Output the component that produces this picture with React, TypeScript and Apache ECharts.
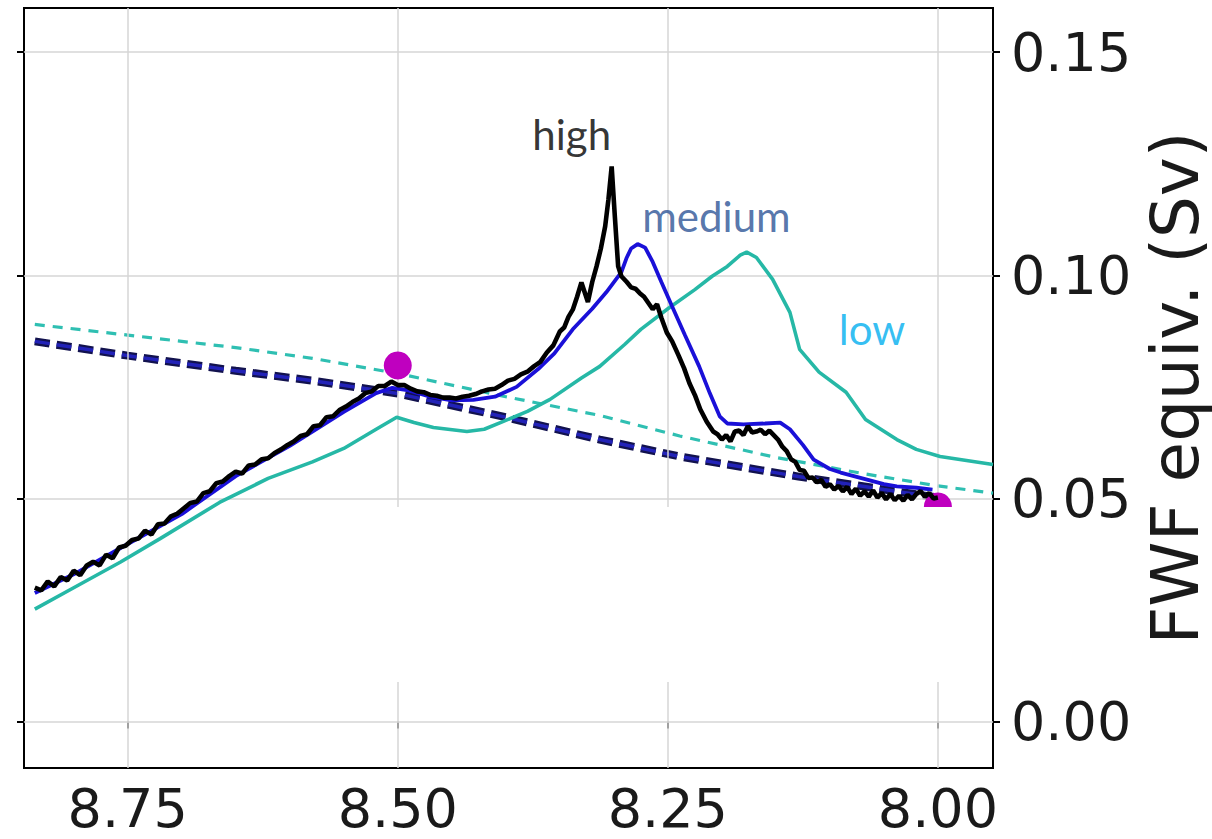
import React, { useEffect, useRef } from "react";
import * as echarts from "echarts";

// ---------- data ----------
const xTicks = [8.75, 8.5, 8.25, 8.0];
const yTicks = [0, 0.05, 0.1, 0.15];
const xMin = 7.949;
const xMax = 8.846;
const yMin = -0.0104;
const yMax = 0.1599;

const highData: number[][] = [
  [8.836, 0.0300], [8.830, 0.0294], [8.824, 0.0314], [8.818, 0.0303], [8.812, 0.0324],
  [8.806, 0.0316], [8.800, 0.0338], [8.794, 0.0328], [8.788, 0.0350], [8.782, 0.0358],
  [8.776, 0.0350], [8.770, 0.0374], [8.764, 0.0366], [8.758, 0.0390], [8.752, 0.0394],
  [8.746, 0.0407], [8.740, 0.0410], [8.734, 0.0428], [8.728, 0.0419], [8.722, 0.0442],
  [8.716, 0.0444], [8.710, 0.0460], [8.704, 0.0466], [8.698, 0.0478], [8.692, 0.0490],
  [8.686, 0.0493], [8.680, 0.0512], [8.674, 0.0516], [8.668, 0.0534], [8.662, 0.0538],
  [8.656, 0.0550], [8.650, 0.0560], [8.644, 0.0556], [8.638, 0.0574], [8.632, 0.0576],
  [8.626, 0.0588], [8.620, 0.0590], [8.614, 0.0602], [8.608, 0.0610], [8.602, 0.0620],
  [8.596, 0.0628], [8.590, 0.0640], [8.584, 0.0644], [8.578, 0.0662], [8.572, 0.0664],
  [8.566, 0.0682], [8.560, 0.0684], [8.554, 0.0698], [8.548, 0.0706], [8.542, 0.0716],
  [8.536, 0.0724], [8.530, 0.0736], [8.524, 0.0740], [8.518, 0.0752], [8.512, 0.0752],
  [8.506, 0.0762], [8.500, 0.0754], [8.494, 0.0754], [8.488, 0.0746], [8.482, 0.0740],
  [8.476, 0.0738], [8.470, 0.0732], [8.464, 0.0730], [8.458, 0.0726], [8.452, 0.0726],
  [8.446, 0.0724], [8.440, 0.0728], [8.434, 0.0730], [8.428, 0.0734], [8.422, 0.0740],
  [8.416, 0.0744], [8.410, 0.0746], [8.404, 0.0754], [8.398, 0.0764], [8.392, 0.0768],
  [8.386, 0.0778], [8.380, 0.0784], [8.374, 0.0796], [8.368, 0.0806], [8.362, 0.0827],
  [8.356, 0.0843], [8.350, 0.0874], [8.346, 0.0883], [8.342, 0.0907], [8.338, 0.0923],
  [8.334, 0.0952], [8.330, 0.0984], [8.327, 0.0962], [8.324, 0.0940], [8.320, 0.0985],
  [8.316, 0.1020], [8.312, 0.1060], [8.308, 0.1110], [8.305, 0.1170], [8.302, 0.1244],
  [8.299, 0.1130], [8.296, 0.1020], [8.293, 0.0998], [8.288, 0.0985], [8.284, 0.0973],
  [8.280, 0.0970], [8.276, 0.0960], [8.272, 0.0952], [8.268, 0.0938], [8.264, 0.0924],
  [8.260, 0.0935], [8.256, 0.0905], [8.251, 0.0872], [8.246, 0.0852], [8.240, 0.0820],
  [8.235, 0.0792], [8.230, 0.0758], [8.225, 0.0732], [8.220, 0.0700], [8.214, 0.0672],
  [8.208, 0.0650], [8.204, 0.0644], [8.200, 0.0632], [8.196, 0.0642], [8.192, 0.0628],
  [8.188, 0.0650], [8.184, 0.0652], [8.180, 0.0642], [8.176, 0.0662], [8.172, 0.0648],
  [8.168, 0.0650], [8.164, 0.0654], [8.160, 0.0644], [8.156, 0.0652], [8.152, 0.0642],
  [8.148, 0.0632], [8.144, 0.0616], [8.140, 0.0606], [8.136, 0.0588], [8.132, 0.0582],
  [8.128, 0.0564], [8.124, 0.0562], [8.120, 0.0546], [8.116, 0.0547], [8.112, 0.0536],
  [8.108, 0.0542], [8.104, 0.0526], [8.100, 0.0532], [8.096, 0.0520], [8.092, 0.0528],
  [8.088, 0.0516], [8.084, 0.0526], [8.080, 0.0510], [8.076, 0.0522], [8.072, 0.0506],
  [8.068, 0.0516], [8.064, 0.0504], [8.060, 0.0518], [8.056, 0.0502], [8.052, 0.0512],
  [8.048, 0.0498], [8.044, 0.0510], [8.040, 0.0496], [8.036, 0.0506], [8.032, 0.0495],
  [8.028, 0.0508], [8.024, 0.0498], [8.020, 0.0510], [8.016, 0.0516], [8.012, 0.0504],
  [8.008, 0.0512], [8.004, 0.0500], [8.000, 0.0502],
];

const mediumData: number[][] = [
  [8.836, 0.0288], [8.80, 0.0330], [8.75, 0.0398], [8.70, 0.0465], [8.65, 0.0550],
  [8.60, 0.0618], [8.55, 0.0694], [8.52, 0.0736], [8.505, 0.0748], [8.49, 0.0742],
  [8.47, 0.0728], [8.45, 0.0720], [8.43, 0.0721], [8.41, 0.0728], [8.39, 0.0750],
  [8.37, 0.0790], [8.355, 0.0825], [8.338, 0.0879], [8.320, 0.0925], [8.307, 0.0962],
  [8.293, 0.1007], [8.288, 0.1040], [8.284, 0.1060], [8.278, 0.1070], [8.271, 0.1062],
  [8.264, 0.1030], [8.256, 0.0985], [8.246, 0.0930], [8.234, 0.0865], [8.221, 0.0796],
  [8.211, 0.0735], [8.202, 0.0684], [8.195, 0.0668], [8.180, 0.0666], [8.160, 0.0668],
  [8.146, 0.0670], [8.137, 0.0655], [8.125, 0.0620], [8.115, 0.0587], [8.100, 0.0566],
  [8.090, 0.0558], [8.070, 0.0545], [8.050, 0.0532], [8.038, 0.0527], [8.020, 0.0524],
  [8.005, 0.0520],
];

const lowData: number[][] = [
  [8.836, 0.0252], [8.80, 0.0300], [8.757, 0.0357], [8.72, 0.0410], [8.665, 0.0491],
  [8.62, 0.0545], [8.579, 0.0582], [8.55, 0.0612], [8.52, 0.0655], [8.501, 0.0682],
  [8.485, 0.0670], [8.467, 0.0659], [8.436, 0.0650], [8.420, 0.0655], [8.405, 0.0670],
  [8.380, 0.0695], [8.359, 0.0722], [8.330, 0.0770], [8.313, 0.0796], [8.290, 0.0845],
  [8.275, 0.0879], [8.250, 0.0925], [8.225, 0.0968], [8.209, 0.0998], [8.195, 0.1020],
  [8.183, 0.1045], [8.177, 0.1052], [8.168, 0.1040], [8.153, 0.0991], [8.137, 0.0917],
  [8.128, 0.0834], [8.110, 0.0783], [8.085, 0.0738], [8.067, 0.0677], [8.038, 0.0632],
  [8.020, 0.0610], [7.998, 0.0594], [7.949, 0.0576],
];

const lowRefData: number[][] = [
  [8.836, 0.0890], [8.75, 0.0866], [8.65, 0.0838], [8.579, 0.0814], [8.50, 0.0780],
  [8.40, 0.0728], [8.313, 0.0686], [8.239, 0.0640], [8.15, 0.0592], [8.07, 0.0556],
  [8.00, 0.0528], [7.949, 0.0512],
];

const highRefData: number[][] = [
  [8.836, 0.0852], [8.75, 0.0820], [8.65, 0.0786], [8.579, 0.0764], [8.50, 0.0735],
  [8.40, 0.0682], [8.313, 0.0632], [8.239, 0.0594], [8.129, 0.0549], [8.05, 0.0520],
  [8.00, 0.0502],
];

const markerData: number[][] = [
  [8.50, 0.0798],
  [8.00, 0.0482],
];

const annotationNames = ["high", "medium", "low"];
const annotationX = [8.339, 8.205, 8.061];
const annotationY = [0.1316, 0.1132, 0.0879];
const annotationColors = ["#000000", "#2b5396", "#00aeef"];

const fmt = (v: number) => v.toFixed(2);

export default function App() {
  const ref = useRef<HTMLDivElement>(null);

  useEffect(() => {
    if (!ref.current) return;
    const chart = echarts.init(ref.current, undefined, { renderer: "svg" });

    const labelFont = {
      fontSize: 54,
      fontFamily: "DejaVu Sans",
      color: "#1a1a1a",
    };

    const option: any = {
      animation: false,
      backgroundColor: "#ffffff",
      grid: {
        left: 24,
        top: 8,
        right: 219,
        bottom: 71,
        containLabel: false,
        outerBoundsMode: "none",
        show: true,
        borderColor: "#000",
        borderWidth: 2,
        backgroundColor: "transparent",
      },
      xAxis: {
        type: "value",
        inverse: true,
        min: xMin,
        max: xMax,
        axisLine: { show: false },
        splitLine: { show: false },
        axisTick: {
          show: true,
          customValues: xTicks,
          length: 7,
          lineStyle: { color: "#000", width: 2 },
        },
        axisLabel: {
          customValues: xTicks,
          formatter: fmt,
          margin: 13,
          ...labelFont,
        },
      },
      yAxis: [
        {
          type: "value",
          position: "right",
          min: yMin,
          max: yMax,
          axisLine: { show: false },
          splitLine: { show: false },
          axisTick: {
            show: true,
            customValues: yTicks,
            length: 7,
            lineStyle: { color: "#000", width: 2 },
          },
          axisLabel: {
            customValues: yTicks,
            formatter: fmt,
            margin: 18,
            ...labelFont,
          },
          name: "FWF equiv. (Sv)",
          nameLocation: "middle",
          nameRotate: 90,
          nameGap: 145,
          nameTextStyle: {
            fontSize: 66,
            fontFamily: "DejaVu Sans",
            color: "#1a1a1a",
          },
        },
        {
          type: "value",
          position: "left",
          min: yMin,
          max: yMax,
          axisLine: { show: false },
          splitLine: { show: false },
          axisTick: {
            show: true,
            customValues: yTicks,
            length: 7,
            lineStyle: { color: "#000", width: 2 },
          },
          axisLabel: { show: false },
        },
      ],
      graphic: [
        {
          type: "rect",
          z: 100,
          shape: { x: 240, y: 507, width: 751, height: 175 },
          style: { fill: "#ffffff" },
        },
      ],
      series: [
        {
          name: "grid",
          type: "line",
          data: [],
          z: 1,
          silent: true,
          markLine: {
            silent: true,
            symbol: ["none", "none"],
            label: { show: false },
            lineStyle: { color: "#d6d6d6", width: 1.5, type: "solid" },
            data: [
              ...xTicks.map((v) => ({ xAxis: v })),
              ...yTicks.map((v) => ({ yAxis: v })),
            ],
          },
        },
        {
          name: "low ref",
          type: "line",
          data: lowRefData,
          showSymbol: false,
          z: 3,
          lineStyle: { color: "#2fbfb2", width: 3.2, type: [10, 8] },
        },
        {
          name: "high ref",
          type: "line",
          data: highRefData,
          showSymbol: false,
          z: 4,
          lineStyle: { color: "#12124e", width: 8, type: [15, 7] },
        },
        {
          name: "medium ref",
          type: "line",
          data: highRefData,
          showSymbol: false,
          z: 4.5,
          lineStyle: { color: "#2222b8", width: 3.5, type: [15, 7] },
        },
        {
          name: "low",
          type: "line",
          data: lowData,
          showSymbol: false,
          z: 5,
          lineStyle: { color: "#26b8a6", width: 3.6 },
        },
        {
          name: "markers",
          type: "scatter",
          data: markerData,
          symbolSize: 28,
          z: 5.5,
          itemStyle: { color: "#bf00bf", opacity: 1 },
        },
        {
          name: "medium",
          type: "line",
          data: mediumData,
          showSymbol: false,
          z: 6,
          lineStyle: { color: "#1a10d8", width: 3.8 },
        },
        {
          name: "high",
          type: "line",
          data: highData,
          showSymbol: false,
          z: 7,
          lineStyle: { color: "#000000", width: 4.6 },
        },
        {
          name: "annotations",
          type: "scatter",
          z: 8,
          symbolSize: 0,
          data: annotationNames.map((n, i) => ({
            name: n,
            value: [annotationX[i], annotationY[i]],
            label: {
              show: true,
              position: "inside",
              formatter: n,
              color: annotationColors[i],
              fontSize: 42,
              fontFamily: "Lato",
            },
          })),
        },
      ],
    };

    chart.setOption(option);
    return () => chart.dispose();
  }, []);

  return (
    <div
      ref={ref}
      style={{ position: "absolute", left: 0, top: 0, width: 1212, height: 839 }}
    />
  );
}
